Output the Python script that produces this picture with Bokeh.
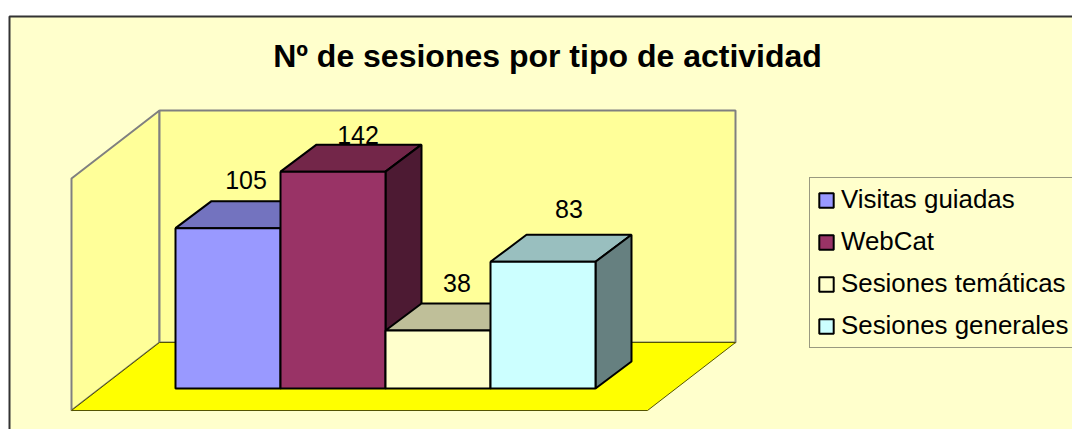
from bokeh.embed import file_html
from bokeh.resources import INLINE
from bokeh.plotting import figure
from bokeh.models import Range1d, Legend, LegendItem
from bokeh.core.properties import value

title_text = "Nº de sesiones por tipo de actividad"
categories = ["Visitas guiadas", "WebCat", "Sesiones temáticas", "Sesiones generales"]
sessions = [105, 142, 38, 83]
front_colors = ["#9999FF", "#993366", "#FFFFCC", "#CCFFFF"]
top_colors = ["#7373BF", "#732649", "#BFBF99", "#99BFBF"]
side_colors = ["#4D4D80", "#4D1A33", "#808066", "#668080"]

W, H = 1072, 429
BAR_PX, UNIT_PX = 105.0, 1.527   # px per category, px per session
X0_PX, Y0_PX = 175.0, 388.0      # picture position of the first bar's base
DX, DY = 36 / BAR_PX, 27 / UNIT_PX  # 3-D depth in data units

def fx(px):
    return (px - X0_PX) / BAR_PX

def fy(py):
    return (Y0_PX - py) / UNIT_PX

p = figure(width=W, height=H, output_backend="svg", toolbar_location=None,
           x_range=Range1d(fx(0), fx(1072)), y_range=Range1d(fy(429), fy(0)),
           min_border=0, outline_line_color=None, background_fill_color="white",
           border_fill_color="white")
p.axis.visible = False
p.grid.visible = False

# chart area
p.quad(left=[fx(9)], right=[fx(1090)], top=[fy(16)], bottom=[fy(450)],
       fill_color="#FFFFCC", line_color="#333333", line_width=2)

# walls and floor
p.patch([fx(71), fx(159), fx(159), fx(71)], [fy(178), fy(110), fy(342), fy(410)],
        fill_color="#FFFF99", line_color="#808080", line_width=2)
p.patch([fx(159), fx(735), fx(735), fx(159)], [fy(110), fy(110), fy(342), fy(342)],
        fill_color="#FFFF99", line_color="#808080", line_width=2)
p.patch([fx(71), fx(159), fx(735), fx(647)], [fy(410), fy(342), fy(342), fy(410)],
        fill_color="#FFFF00", line_color="#555500", line_width=1)

# bars, left to right so that each one hides what is behind it
fronts = []
for i, v in enumerate(sessions):
    l, r = float(i), float(i + 1)
    p.patch([l, l + DX, r + DX, r], [v, v + DY, v + DY, v],
            fill_color=top_colors[i], line_color="black", line_width=2)
    p.patch([r, r + DX, r + DX, r], [0, DY, v + DY, v],
            fill_color=side_colors[i], line_color="black", line_width=2)
    fronts.append(p.quad(left=[l], right=[r], bottom=[0], top=[v],
                         fill_color=front_colors[i], line_color="black", line_width=2))

# value labels
label_dx = [18, 25, 19, 26]
label_dy = [21, 10, 20, 26]
for i, v in enumerate(sessions):
    p.text([i + 0.5], [v], text=[str(v)], text_font=value("Liberation Sans"),
           text_font_size="25px", text_color="black", text_align="center",
           text_baseline="alphabetic", x_offset=label_dx[i], y_offset=-(27 + label_dy[i]))

p.text([fx(547)], [fy(55)], text=[title_text], text_font=value("Liberation Sans"),
       text_font_style="bold", text_font_size="32px", text_color="black",
       text_align="center", text_baseline="alphabetic")

legend = Legend(items=[LegendItem(label=c, renderers=[r]) for c, r in zip(categories, fronts)],
                location=(809, 81), orientation="vertical",
                background_fill_color="#FFFFCC", background_fill_alpha=1,
                border_line_color="#333333", border_line_width=1,
                label_text_font="Liberation Sans", label_text_font_size="25.9px",
                label_text_color="black", glyph_width=18, glyph_height=18,
                label_standoff=6, padding=7, spacing=13, margin=0, label_height=28)
p.add_layout(legend, "center")

open("out.html", "w").write(file_html(p, INLINE))
